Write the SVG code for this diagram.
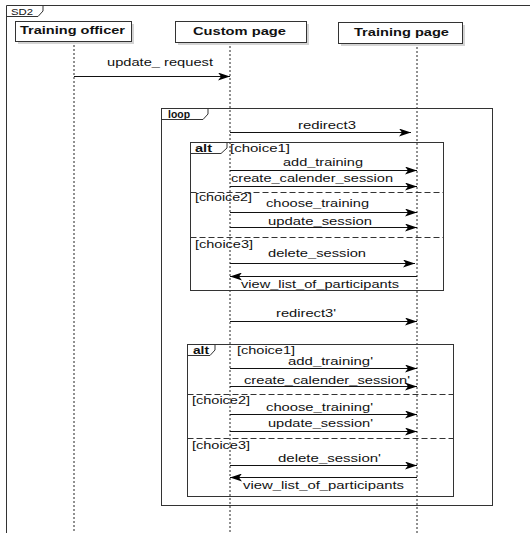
<svg xmlns="http://www.w3.org/2000/svg" width="530" height="533" viewBox="0 0 530 533">
<defs>
<marker id="ah" viewBox="0 0 12 8" refX="12" refY="4" markerWidth="12" markerHeight="8" markerUnits="userSpaceOnUse" orient="auto">
<path d="M0,0 L12,4 L0,8 L3,4 Z" fill="#000"/>
</marker>
</defs>
<style>
text{font-family:"Liberation Sans",Arial,sans-serif;font-size:10.5px;fill:#111}
.hd{font-weight:bold;font-size:11px}
.tab{font-weight:bold;font-size:10px}
.life{stroke:#222;stroke-width:1;stroke-dasharray:2,2;fill:none}
.msg{stroke:#111;stroke-width:1;fill:none;marker-end:url(#ah)}
.frame{fill:none;stroke:#333;stroke-width:1}
.sep{stroke:#333;stroke-width:1;stroke-dasharray:6,3}
.head{fill:#fff;stroke:#333;stroke-width:1}
.shadow{fill:#d4d4d4}
</style>
<rect width="530" height="533" fill="#fff"/>
<g id="sd2">
<path class="frame" d="M6.5,533 L6.5,5.5 L530,5.5"/>
<path class="frame" d="M6.5,16.5 L38,16.5 L43,11 L43,5.5"/>
<text x="11" y="14.5" style="font-size:9px" textLength="22" lengthAdjust="spacingAndGlyphs">SD2</text>
</g>
<g id="lifelines">
<line class="life" x1="74" y1="41" x2="74" y2="533"/>
<line class="life" x1="230" y1="42" x2="230" y2="533"/>
<line class="life" x1="417" y1="43" x2="417" y2="533"/>
</g>
<g id="training-officer">
<rect class="shadow" x="18" y="24" width="116" height="20"/>
<rect class="head" x="15.5" y="21.5" width="116" height="20"/>
<text class="hd" x="20" y="34" textLength="105" lengthAdjust="spacingAndGlyphs">Training officer</text>
</g>
<g id="custom-page">
<rect class="shadow" x="178" y="24" width="131" height="21"/>
<rect class="head" x="175.5" y="21.5" width="131" height="21"/>
<text class="hd" x="193" y="35" textLength="93" lengthAdjust="spacingAndGlyphs">Custom page</text>
</g>
<g id="training-page">
<rect class="shadow" x="341" y="25" width="124" height="21"/>
<rect class="head" x="338.5" y="22.5" width="124" height="21"/>
<text class="hd" x="354" y="36" textLength="95" lengthAdjust="spacingAndGlyphs">Training page</text>
</g>
<g id="loop">
<rect class="frame" x="161.5" y="108.5" width="331" height="397"/>
<path class="frame" d="M161.5,119.5 L203,119.5 L208,114 L208,108.5"/>
<text class="tab" x="168" y="117.5" textLength="22" lengthAdjust="spacingAndGlyphs">loop</text>
</g>
<g id="alt1">
<rect class="frame" x="190.5" y="142.5" width="253" height="148"/>
<path class="frame" d="M190.5,153.5 L221,153.5 L227,148 L227,142.5"/>
<text class="tab" x="195" y="151.5" textLength="17" lengthAdjust="spacingAndGlyphs">alt</text>
<text x="230" y="152" textLength="60" lengthAdjust="spacingAndGlyphs">[choice1]</text>
<line class="sep" x1="190.5" y1="192.5" x2="443.5" y2="192.5"/>
<text x="195" y="201" textLength="57" lengthAdjust="spacingAndGlyphs">[choice2]</text>
<line class="sep" x1="190.5" y1="237.5" x2="443.5" y2="237.5"/>
<text x="195" y="248" textLength="58" lengthAdjust="spacingAndGlyphs">[choice3]</text>
</g>
<g id="alt2">
<rect class="frame" x="187.5" y="344.5" width="266" height="152"/>
<path class="frame" d="M187.5,355.5 L210,355.5 L215,350 L215,344.5"/>
<text class="tab" x="193" y="353.5" textLength="16" lengthAdjust="spacingAndGlyphs">alt</text>
<text x="237" y="354" textLength="58" lengthAdjust="spacingAndGlyphs">[choice1]</text>
<line class="sep" x1="187.5" y1="394.5" x2="453.5" y2="394.5"/>
<text x="192" y="404" textLength="58" lengthAdjust="spacingAndGlyphs">[choice2]</text>
<line class="sep" x1="187.5" y1="438.5" x2="453.5" y2="438.5"/>
<text x="192" y="449" textLength="58" lengthAdjust="spacingAndGlyphs">[choice3]</text>
</g>
<g id="connectors">
<line class="msg" x1="74" y1="76.5" x2="230" y2="76.5"/>
<line class="msg" x1="230" y1="132.5" x2="411" y2="132.5"/>
<line class="msg" x1="230" y1="170.5" x2="417" y2="170.5"/>
<line class="msg" x1="230" y1="186.5" x2="417" y2="186.5"/>
<line class="msg" x1="230" y1="212.5" x2="417" y2="212.5"/>
<line class="msg" x1="230" y1="227.5" x2="417" y2="227.5"/>
<line class="msg" x1="230" y1="263.5" x2="415" y2="263.5"/>
<line class="msg" x1="417" y1="276.5" x2="230" y2="276.5"/>
<line class="msg" x1="230" y1="321.5" x2="417" y2="321.5"/>
<line class="msg" x1="230" y1="368.5" x2="417" y2="368.5"/>
<line class="msg" x1="230" y1="386.5" x2="417" y2="386.5"/>
<line class="msg" x1="230" y1="414.5" x2="417" y2="414.5"/>
<line class="msg" x1="230" y1="431.5" x2="417" y2="431.5"/>
<line class="msg" x1="230" y1="465.5" x2="417" y2="465.5"/>
<line class="msg" x1="417" y1="477.5" x2="230" y2="477.5"/>
</g>
<g id="labels">
<text x="107" y="66" textLength="106" lengthAdjust="spacingAndGlyphs">update_ request</text>
<text x="298" y="129" textLength="58" lengthAdjust="spacingAndGlyphs">redirect3</text>
<text x="283" y="166" textLength="80" lengthAdjust="spacingAndGlyphs">add_training</text>
<text x="231" y="182" textLength="162" lengthAdjust="spacingAndGlyphs">create_calender_session</text>
<text x="266" y="207" textLength="103" lengthAdjust="spacingAndGlyphs">choose_training</text>
<text x="268" y="225" textLength="104" lengthAdjust="spacingAndGlyphs">update_session</text>
<text x="268" y="257" textLength="98" lengthAdjust="spacingAndGlyphs">delete_session</text>
<text x="241" y="288" textLength="158" lengthAdjust="spacingAndGlyphs">view_list_of_participants</text>
<text x="276" y="317" textLength="60" lengthAdjust="spacingAndGlyphs">redirect3'</text>
<text x="288" y="365" textLength="85" lengthAdjust="spacingAndGlyphs">add_training'</text>
<text x="244" y="384" textLength="166" lengthAdjust="spacingAndGlyphs">create_calender_session'</text>
<text x="266" y="411" textLength="107" lengthAdjust="spacingAndGlyphs">choose_training'</text>
<text x="268" y="427" textLength="105" lengthAdjust="spacingAndGlyphs">update_session'</text>
<text x="278" y="462" textLength="103" lengthAdjust="spacingAndGlyphs">delete_session'</text>
<text x="243" y="489" textLength="161" lengthAdjust="spacingAndGlyphs">view_list_of_participants</text>
</g>
</svg>
